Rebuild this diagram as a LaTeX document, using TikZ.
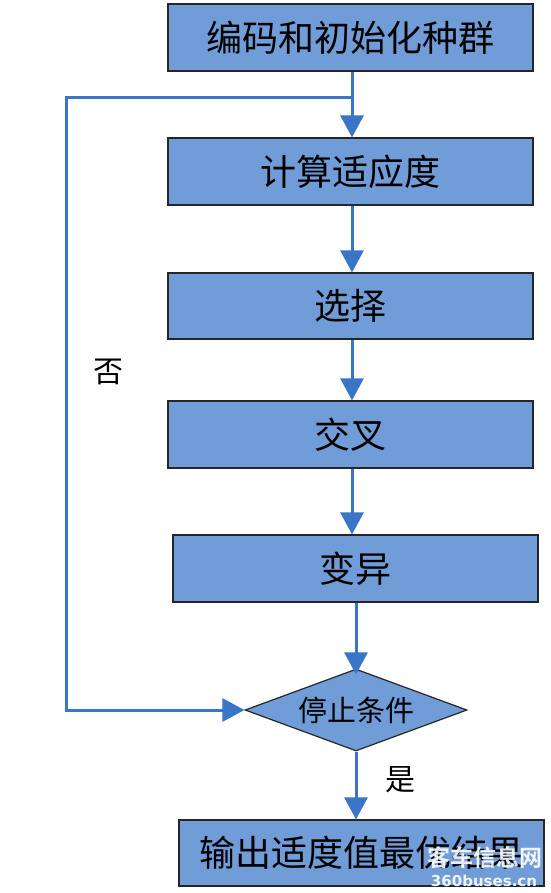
\documentclass[tikz,border=0pt]{standalone}
\usepackage{fontspec}
\newfontfamily\cjk{Noto Sans CJK SC}
\newfontfamily\cjkbold{Noto Sans CJK SC Bold}
\setsansfont{DejaVu Sans}
\usetikzlibrary{arrows.meta,shapes.geometric}
\definecolor{boxfill}{RGB}{112,156,216}
\definecolor{linkblue}{RGB}{58,118,200}
\begin{document}
\begin{tikzpicture}[x=1pt,y=-1pt,
  stepbox/.style={draw=black!85,line width=1.2pt,fill=boxfill,minimum width=365pt,minimum height=67pt,inner sep=0pt,font=\cjk\fontsize{36}{36}\selectfont},
  decbox/.style={diamond,aspect=2.7,draw=black!85,line width=1.2pt,fill=boxfill,minimum width=222pt,minimum height=82pt,inner sep=0pt,font=\cjk\fontsize{29}{29}\selectfont},
  arr/.style={draw=linkblue,line width=3pt,-{Triangle[width=23pt,length=22pt]}},
  lbl/.style={font=\cjk\fontsize{30}{30}\selectfont},
  wm/.style={text=white,opacity=0.9,inner sep=0pt}]
\fill[white] (0,0) rectangle (550,893);
\useasboundingbox (0,0) rectangle (550,893);
\node[stepbox] (b1) at (350.5,37.5) {编码和初始化种群};
\node[stepbox] (b2) at (350.5,171.5) {计算适应度};
\node[stepbox,minimum height=66pt] (b3) at (350.5,306) {选择};
\node[stepbox] (b4) at (350.5,434.5) {交叉};
\node[stepbox] (b5) at (355.5,568.5) {变异};
\node[decbox] (d) at (356,710) {停止条件};
\node[stepbox,minimum height=66pt] (b6) at (361.5,853) {输出适度值最优结果};
\coordinate (j) at (352,98);
\coordinate (lt) at (66,98);
\coordinate (lb) at (66,710);
\draw[arr] (b1.south -| j) -- (b2.north -| j);
\draw[arr] (b2.south -| j) -- (b3.north -| j);
\draw[arr] (b3.south -| j) -- (b4.north -| j);
\draw[arr] (b4.south -| j) -- (b5.north -| j);
\draw[arr] (b5.south -| d) -- ([yshift=-6pt]d.north);
\draw[arr] (d.south) -- (b6.north -| d);
\draw[arr] (j) -- (lt) -- (lb) -- (d.west);
\node[lbl] (no) at (108,372) {否};
\node[lbl] (yes) at (400,780) {是};
\node[wm,font=\cjkbold\fontsize{23}{23}\selectfont] (wm1) at (485,858) {客车信息网};
\node[wm,font=\sffamily\bfseries\fontsize{15}{15}\selectfont] (wm2) at (484,881) {360buses.cn};
\end{tikzpicture}
\end{document}
